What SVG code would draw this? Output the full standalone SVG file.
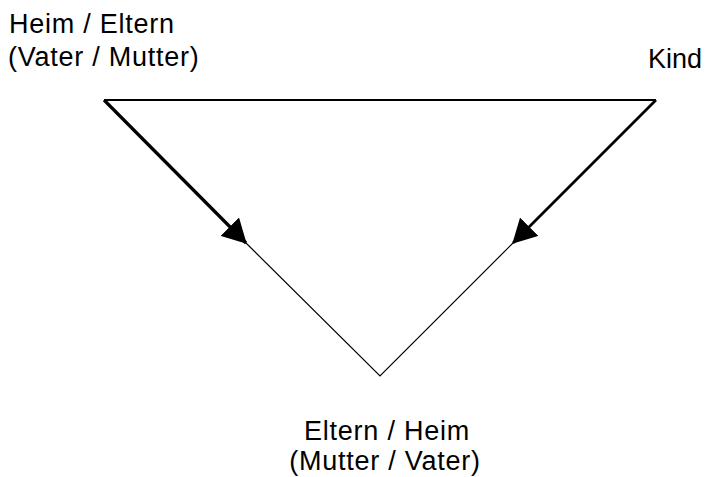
<svg xmlns="http://www.w3.org/2000/svg" width="705" height="477" viewBox="0 0 705 477">
<style>
text{font-family:"Liberation Sans",Arial,sans-serif;font-size:27px;fill:#000}
.ls{letter-spacing:0.75px}
.thin{stroke:#000;stroke-width:1.2;fill:none}
</style>
<defs>
<marker id="ah" markerUnits="userSpaceOnUse" viewBox="0 0 24 26" markerWidth="24" markerHeight="26" refX="23" refY="13" orient="auto">
<path d="M0,0 L24,13 L0,26 z" fill="#000"/>
</marker>
</defs>
<rect width="705" height="477" fill="#fff"/>
<g id="connectors">
<line x1="104" y1="100" x2="656" y2="100" stroke="#000" stroke-width="2"/>
<line x1="104" y1="100" x2="246" y2="243" stroke="#000" stroke-width="3.2" marker-end="url(#ah)"/>
<line x1="656" y1="100" x2="513" y2="243" stroke="#000" stroke-width="2.6" marker-end="url(#ah)"/>
<polyline class="thin" points="246,243 380,376 513,243"/>
</g>
<g id="node-heim">
<text class="ls" x="9" y="33">Heim / Eltern</text>
<text class="ls" x="8" y="66">(Vater / Mutter)</text>
</g>
<g id="node-kind">
<text x="648" y="68">Kind</text>
</g>
<g id="node-eltern">
<text class="ls" x="387" y="440" text-anchor="middle">Eltern / Heim</text>
<text class="ls" x="385" y="470" text-anchor="middle">(Mutter / Vater)</text>
</g>
</svg>
